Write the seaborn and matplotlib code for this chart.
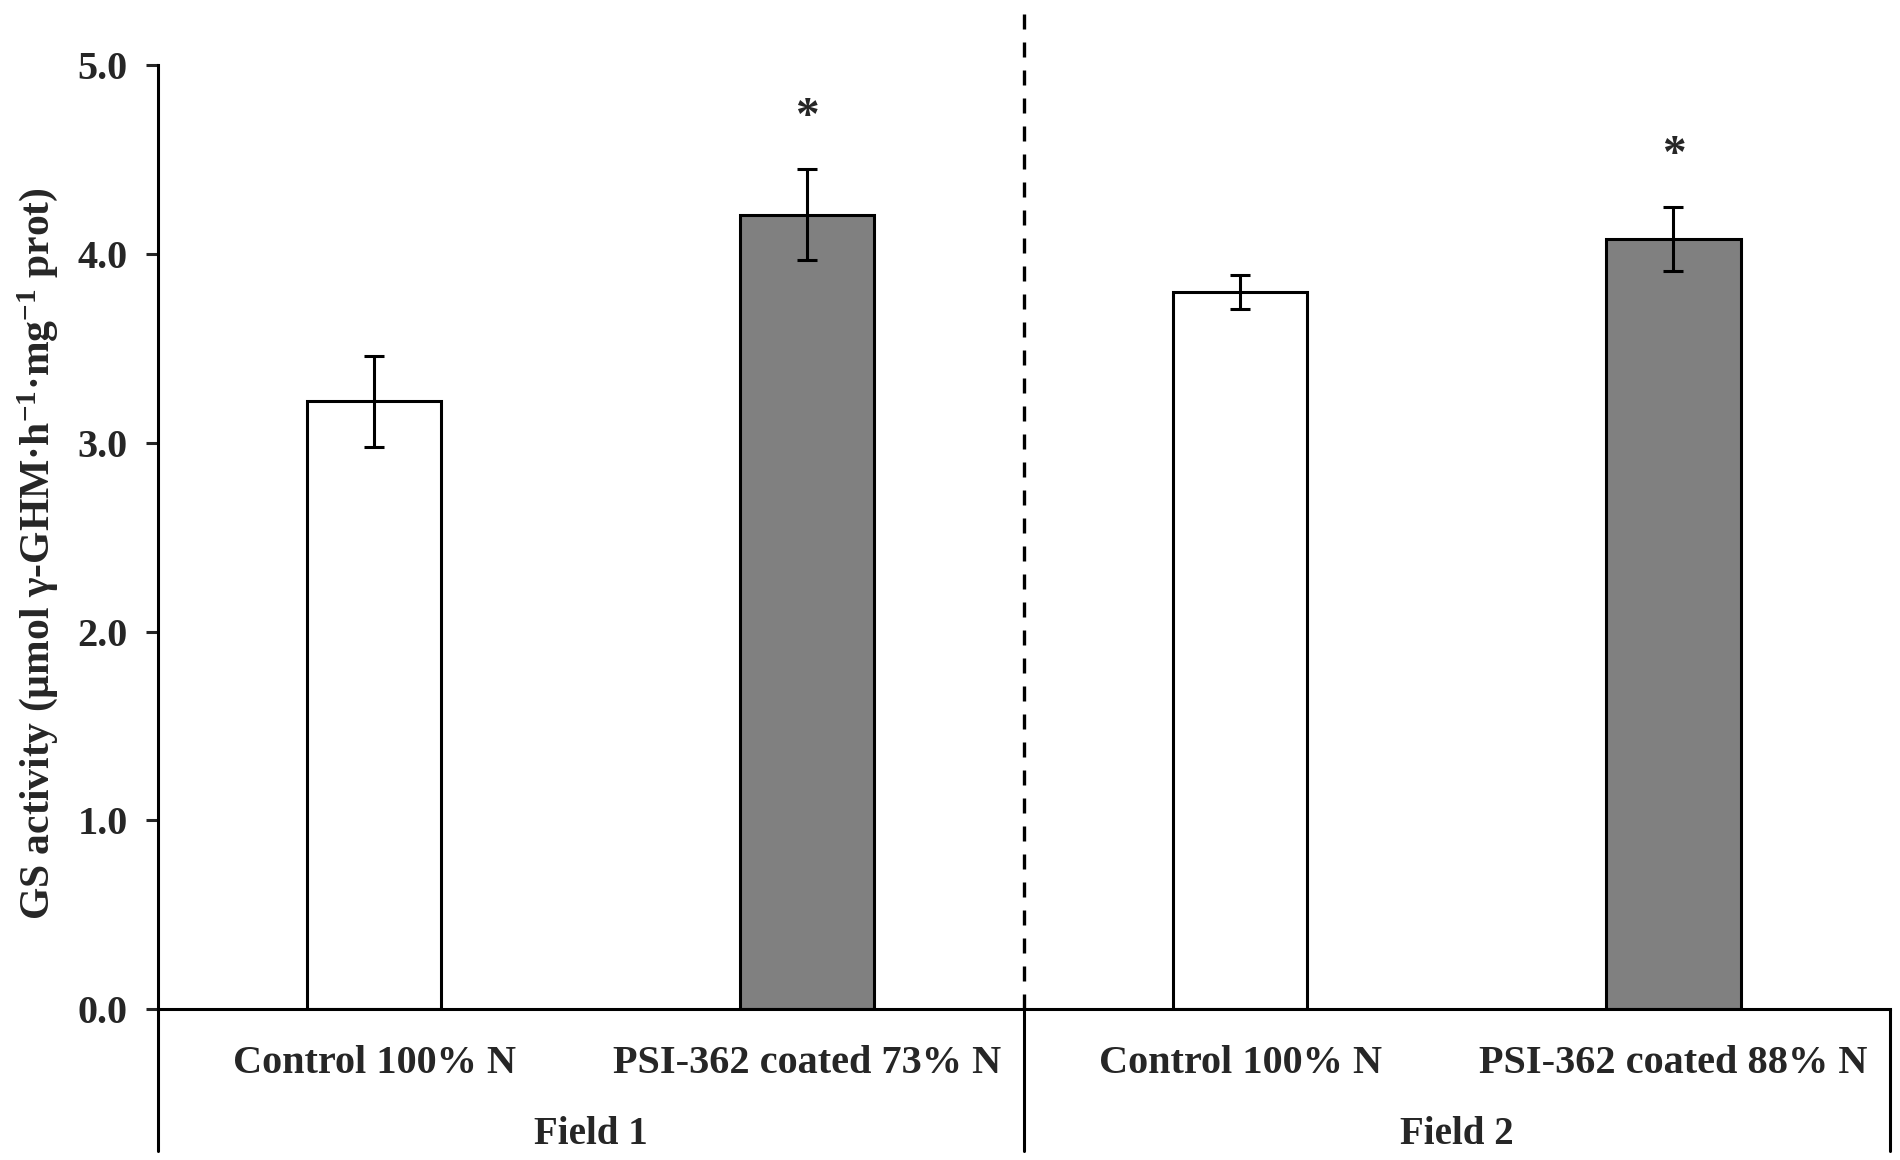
import matplotlib
matplotlib.use("Agg")
import matplotlib.pyplot as plt
import seaborn as sns
import pandas as pd

# ---- data ----
bar_keys = ["F1 Control", "F1 PSI", "F2 Control", "F2 PSI"]
tick_labels = ["Control 100% N", "PSI-362 coated 73% N", "Control 100% N", "PSI-362 coated 88% N"]
means = [3.22, 4.21, 3.80, 4.08]
errors = [0.24, 0.24, 0.09, 0.17]
significant = [False, True, False, True]
field_labels = ["Field 1", "Field 2"]
bar_colors = ["#ffffff", "#808080", "#ffffff", "#808080"]
y_ticks = [0.0, 1.0, 2.0, 3.0, 4.0, 5.0]

sns.set_style("white")
plt.rcParams["font.family"] = ["Liberation Serif", "DejaVu Serif"]
plt.rcParams["font.weight"] = "bold"
plt.rcParams["mathtext.fontset"] = "custom"
plt.rcParams["mathtext.rm"] = "Liberation Serif:bold"
plt.rcParams["mathtext.bf"] = "Liberation Serif:bold"
plt.rcParams["mathtext.default"] = "bf"

df = pd.DataFrame({"key": bar_keys, "value": means})

fig = plt.figure(figsize=(19, 11.6), dpi=100)
ax = fig.add_axes([0.0829, 0.1302, 0.9947 - 0.0829, 0.9436 - 0.1302])

sns.barplot(data=df, x="key", y="value", hue="key", palette=bar_colors,
            order=bar_keys, hue_order=bar_keys, legend=False,
            width=0.31, edgecolor="black", linewidth=2.2, ax=ax, errorbar=None)

# error bars at bar centers
centers = [p.get_x() + p.get_width() / 2 for p in ax.patches]
ax.errorbar(centers, means, yerr=errors, fmt="none", ecolor="black",
            elinewidth=2.2, capsize=7, capthick=2.2, zorder=5)

# significance asterisks
for c, m, e, s in zip(centers, means, errors, significant):
    if s:
        ax.text(c, m + e + 0.16, "*", ha="center", va="bottom",
                fontsize=34, fontweight="bold")

ax.set_xlim(-0.5, 3.5)
ax.set_ylim(0, 5)
ax.set_yticks(y_ticks)
ax.set_yticklabels([f"{t:.1f}" for t in y_ticks])
ax.set_xticks(range(len(tick_labels)))
ax.set_xticklabels(tick_labels)
ax.tick_params(axis="y", direction="out", length=8.5, width=2.2, labelsize=29, pad=13, left=True)
ax.tick_params(axis="x", length=0, labelsize=29, pad=26)
for lab in ax.get_xticklabels() + ax.get_yticklabels():
    lab.set_fontweight("bold")

ax.set_xlabel("")
ax.set_ylabel("GS activity (µmol γ-GHM·h$^{-1}$·mg$^{-1}$ prot)",
              fontsize=30, fontweight="bold")
ax.yaxis.set_label_coords(-0.056, 0.483)

for side in ["top", "right"]:
    ax.spines[side].set_visible(False)
for side in ["left", "bottom"]:
    ax.spines[side].set_linewidth(2.2)
    ax.spines[side].set_color("black")

# dashed divider between fields
ax.axvline(1.5, ymin=0, ymax=1.0587, color="black", lw=2.4,
           linestyle=(0, (4.5, 3.9)), clip_on=False)
# group separators below the axis
for xv in [-0.5, 1.5, 3.5]:
    ax.axvline(xv, ymin=-0.1505, ymax=0, color="black", lw=2.2, clip_on=False)

# field labels
for i, fl in enumerate(field_labels):
    ax.text(0.5 + 2 * i, -0.133, fl, transform=ax.get_xaxis_transform(),
            ha="center", va="center", fontsize=28, fontweight="bold")

fig.savefig("out.png", dpi=100)
